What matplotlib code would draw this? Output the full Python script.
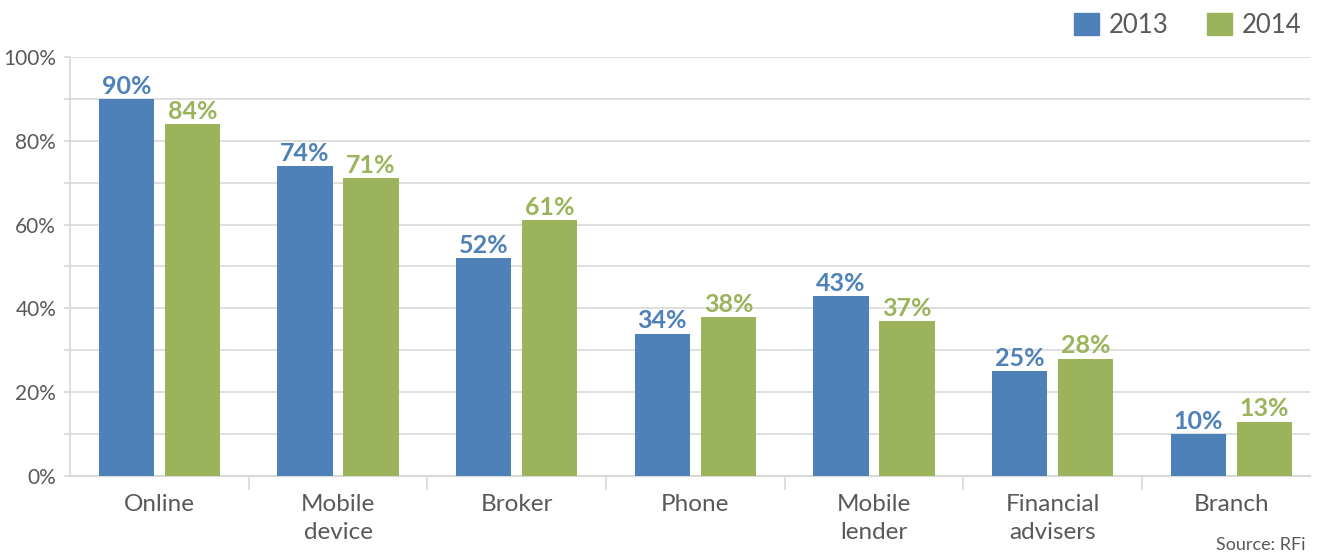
import matplotlib.pyplot as plt
import numpy as np
from matplotlib.patches import Patch

plt.rcParams['font.family'] = ['Lato', 'DejaVu Sans']

categories = ["Online", "Mobile\ndevice", "Broker", "Phone", "Mobile\nlender", "Financial\nadvisers", "Branch"]
vals_2013 = [90, 74, 52, 34, 43, 25, 10]
vals_2014 = [84, 71, 61, 38, 37, 28, 13]
years = ["2013", "2014"]

blue = "#4f81b9"
green = "#9bb45b"
txt = "#595959"
grid_c = "#d9d9d9"

fig = plt.figure(figsize=(13.17, 5.53), dpi=100)
ax = fig.add_axes([0.0532, 0.1392, 0.9415, 0.7578])

x = np.arange(len(categories))
w = 0.31
off = 0.185
b1 = ax.bar(x - off, vals_2013, w, color=blue, zorder=3)
b2 = ax.bar(x + off, vals_2014, w, color=green, zorder=3)

for rect, v in zip(b1, vals_2013):
    ax.text(rect.get_x() + rect.get_width() / 2, v + 0.3, "%d%%" % v, ha="center", va="bottom",
            color=blue, fontsize=18, fontweight="bold")
for rect, v in zip(b2, vals_2014):
    ax.text(rect.get_x() + rect.get_width() / 2, v + 0.3, "%d%%" % v, ha="center", va="bottom",
            color=green, fontsize=18, fontweight="bold")

ax.set_xlim(-0.5, 6.44)
ax.set_ylim(0, 100)

# gridlines every 10%, labels every 20%
ax.set_yticks(np.arange(0, 101, 20))
ax.set_yticks(np.arange(10, 100, 20), minor=True)
ax.set_yticklabels(["%d%%" % t for t in range(0, 101, 20)], fontsize=15, color=txt)
ax.yaxis.grid(True, which="both", color=grid_c, linewidth=1.2, zorder=0)
ax.tick_params(axis="y", which="both", length=4, color=grid_c, width=1.2, pad=6)

# category labels centered, separator ticks at boundaries
ax.set_xticks(np.arange(len(categories) - 1) + 0.5)
ax.set_xticklabels([])
ax.tick_params(axis="x", length=10, color=grid_c, width=1.2, direction="out")
for i, c in enumerate(categories):
    ax.text(i, -4.2, c, ha="center", va="top", fontsize=17.5, color=txt, linespacing=1.42)

for s in ["top", "right"]:
    ax.spines[s].set_visible(False)
ax.spines["left"].set_color(grid_c)
ax.spines["bottom"].set_color(grid_c)
ax.spines["left"].set_linewidth(1.2)
ax.spines["bottom"].set_linewidth(1.6)
ax.set_axisbelow(True)

handles = [Patch(color=blue), Patch(color=green)]
fig.legend(handles, years, loc="upper right", bbox_to_anchor=(1.006, 1.018), ncol=2, frameon=False,
           fontsize=18.5, labelcolor=txt, handlelength=0.95, handleheight=0.95, columnspacing=1.5,
           handletextpad=0.4)

fig.text(0.991, 0.015, "Source: RFi", ha="right", va="center", fontsize=13, color=txt)

fig.savefig("out.png", dpi=100)
